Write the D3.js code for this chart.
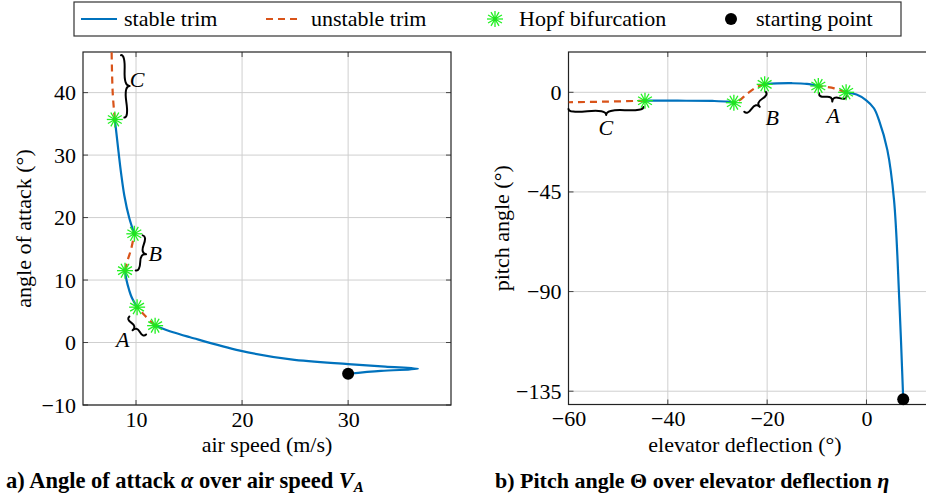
<!DOCTYPE html>
<html>
<head>
<meta charset="utf-8">
<script src="https://cdn.jsdelivr.net/npm/d3@7/dist/d3.min.js"></script>
<style>
  body { margin: 0; background: #fff; }
  svg { display: block; }
  svg text { font-family: "Liberation Serif", "Times New Roman", serif; }
  .grid line { stroke: #cfcfcf; stroke-width: 1; }
  .frame { fill: none; stroke: #222; stroke-width: 1.2; }
  .tick-mark { stroke: #444; stroke-width: 1; }
  .stable { fill: none; stroke: #0072bd; stroke-width: 2.2; }
  .unstable { fill: none; stroke: #d95319; stroke-width: 2.2; stroke-dasharray: 7 5; }
  .brace { fill: none; stroke: #000; stroke-width: 2; stroke-linecap: round; }
</style>
</head>
<body>
<svg id="chart" width="926" height="499"></svg>
<script>
// ---- data: a) angle of attack over air speed ----
const aStable = [
  [[30, -5.0], [33.1, -4.55], [36.6, -4.2], [33.5, -3.85], [30, -3.45], [24.6, -2.7], [19.8, -1.3], [15.1, 0.85], [13.5, 1.65], [11.8, 2.7]],
  [[10.1, 5.66], [9.6, 7.2], [9.35, 8.4], [9.1, 10.0], [8.96, 11.5]],
  [[9.84, 17.4], [9.35, 20.0], [8.9, 23.5], [8.6, 27.0], [8.35, 30.5], [8.15, 33.5], [8.0, 35.7]]
];
const aUnstable = [
  [[11.8, 2.7], [10.9, 4.2], [10.1, 5.66]],
  [[8.96, 11.5], [9.18, 13.0], [9.53, 14.9], [9.84, 17.4]],
  [[8.0, 35.7], [7.8, 40.0], [7.7, 46.5]]
];
const aHopf = [[11.8, 2.7], [10.1, 5.66], [8.96, 11.5], [9.84, 17.4], [8.0, 35.7]];
const aStart = [[30, -5.0]];
// braces: from, to, label position, label
const aBraces = [
  {from: [8.9, 36.0], to: [8.58, 46.0], label: [10.1, 40.9], text: "C"},
  {from: [9.97, 11.54], to: [10.63, 17.15], label: [11.8, 13.1], text: "B"},
  {from: [9.37, 4.17], to: [10.95, 1.28], label: [8.75, -0.75], text: "A"}
];
const aXTicks = [10, 20, 30];
const aYTicks = [-10, 0, 10, 20, 30, 40];

// ---- data: b) pitch angle over elevator deflection ----
const bStable = [
  [[7.4, -138.6], [6.6, -93.4], [5.55, -48.7], [4.2, -26.0], [2.5, -12.5], [1.5, -7.2], [-0.1, -3.5], [-2.0, -1.0], [-4.1, 0.0]],
  [[-9.7, 2.85], [-12.0, 3.8], [-15.0, 4.1], [-18.0, 4.0], [-20.5, 3.6]],
  [[-26.7, -4.7], [-28.0, -4.2], [-31.0, -3.9], [-38.0, -3.8], [-44.6, -3.8]]
];
const bUnstable = [
  [[-4.1, 0.0], [-6.5, 1.8], [-9.7, 2.85]],
  [[-20.5, 3.6], [-22.0, 2.5], [-24.0, -0.6], [-25.5, -3.5], [-26.7, -4.7]],
  [[-44.6, -3.8], [-52.0, -4.2], [-60.0, -4.5]]
];
const bHopf = [[-4.1, 0.0], [-9.7, 2.85], [-20.5, 3.6], [-26.7, -4.7], [-44.6, -3.8]];
const bStart = [[7.4, -138.6]];
const bBraces = [
  {from: [-60, -7.5], to: [-44.9, -6.6], label: [-52.5, -19.3], text: "C"},
  {from: [-24.6, -8.8], to: [-20.3, 0.27], label: [-19.0, -14.8], text: "B"},
  {from: [-9.54, -0.45], to: [-3.97, -1.67], label: [-6.7, -14.0], text: "A"}
];
const bXTicks = [-60, -40, -20, 0];
const bYTicks = [-135, -90, -45, 0];

const legendItems = ["stable trim", "unstable trim", "Hopf bifurcation", "starting point"];

const svg = d3.select('#chart');
const fmt = d3.format('');
const serif = '"Liberation Serif", "Times New Roman", serif';

// curly brace path between two pixel points, bulging by w
function bracePath(x1, y1, x2, y2, w, q) {
  let dx = x1 - x2, dy = y1 - y2;
  const len = Math.sqrt(dx * dx + dy * dy);
  dx /= len; dy /= len;
  const qx1 = x1 + q * w * dy, qy1 = y1 - q * w * dx;
  const qx2 = (x1 - 0.25 * len * dx) + (1 - q) * w * dy, qy2 = (y1 - 0.25 * len * dy) - (1 - q) * w * dx;
  const tx1 = (x1 - 0.5 * len * dx) + w * dy, ty1 = (y1 - 0.5 * len * dy) - w * dx;
  const qx3 = x2 + q * w * dy, qy3 = y2 - q * w * dx;
  const qx4 = (x1 - 0.75 * len * dx) + (1 - q) * w * dy, qy4 = (y1 - 0.75 * len * dy) - (1 - q) * w * dx;
  return 'M' + x1 + ',' + y1 + 'Q' + qx1 + ',' + qy1 + ' ' + qx2 + ',' + qy2 + 'T' + tx1 + ',' + ty1 +
    'M' + x2 + ',' + y2 + 'Q' + qx3 + ',' + qy3 + ' ' + qx4 + ',' + qy4 + 'T' + tx1 + ',' + ty1;
}

function drawStar(g, cx, cy, r) {
  const s = g.append('g').attr('transform', 'translate(' + cx + ',' + cy + ')');
  for (let k = 0; k < 6; k++) {
    const a = k * Math.PI / 6;
    s.append('line')
      .attr('x1', -r * Math.cos(a)).attr('y1', -r * Math.sin(a))
      .attr('x2', r * Math.cos(a)).attr('y2', r * Math.sin(a))
      .attr('stroke', '#22f022').attr('stroke-width', 1.3);
  }
  s.append('circle').attr('r', 2.2).attr('fill', '#22e022');
}

function drawPanel(cfg) {
  const x = d3.scaleLinear().domain(cfg.xDomain).range(cfg.xRange);
  const y = d3.scaleLinear().domain(cfg.yDomain).range(cfg.yRange);
  const g = svg.append('g');
  const x0 = cfg.xRange[0], x1 = cfg.xRange[1], y0 = cfg.yRange[1], y1 = cfg.yRange[0];

  // grid
  const grid = g.append('g').attr('class', 'grid');
  grid.selectAll('.gx').data(cfg.xTicks).enter().append('line')
    .attr('x1', d => x(d)).attr('x2', d => x(d)).attr('y1', y0).attr('y2', y1);
  grid.selectAll('.gy').data(cfg.yTicks).enter().append('line')
    .attr('x1', x0).attr('x2', x1).attr('y1', d => y(d)).attr('y2', d => y(d));

  // tick marks inside the frame
  cfg.xTicks.forEach(t => {
    g.append('line').attr('class', 'tick-mark').attr('x1', x(t)).attr('x2', x(t)).attr('y1', y1).attr('y2', y1 - 5);
    g.append('line').attr('class', 'tick-mark').attr('x1', x(t)).attr('x2', x(t)).attr('y1', y0).attr('y2', y0 + 5);
  });
  cfg.yTicks.forEach(t => {
    g.append('line').attr('class', 'tick-mark').attr('x1', x0).attr('x2', x0 + 5).attr('y1', y(t)).attr('y2', y(t));
    g.append('line').attr('class', 'tick-mark').attr('x1', x1).attr('x2', x1 - 5).attr('y1', y(t)).attr('y2', y(t));
  });

  // tick labels via axes (no domain path, no ticks)
  g.append('g')
    .attr('transform', 'translate(0,' + y1 + ')')
    .call(d3.axisBottom(x).tickValues(cfg.xTicks).tickFormat(fmt).tickSize(0).tickPadding(6))
    .call(a => a.select('.domain').remove())
    .selectAll('text').attr('fill', '#000').style('font-size', '22px').style('font-family', serif);
  g.append('g')
    .attr('transform', 'translate(' + x0 + ',0)')
    .call(d3.axisLeft(y).tickValues(cfg.yTicks).tickFormat(fmt).tickSize(0).tickPadding(7))
    .call(a => a.select('.domain').remove())
    .selectAll('text').attr('fill', '#000').style('font-size', '22px').style('font-family', serif);

  // frame
  g.append('rect').attr('class', 'frame')
    .attr('x', x0).attr('y', y0).attr('width', x1 - x0).attr('height', y1 - y0);

  // curves
  const line = d3.line().x(d => x(d[0])).y(d => y(d[1])).curve(d3.curveCatmullRom.alpha(0.5));
  const clipId = 'clip' + cfg.id;
  svg.append('clipPath').attr('id', clipId).append('rect')
    .attr('x', x0).attr('y', y0).attr('width', x1 - x0).attr('height', y1 - y0);
  const curves = g.append('g').attr('clip-path', 'url(#' + clipId + ')');
  cfg.unstable.forEach(seg => curves.append('path').attr('class', 'unstable').attr('d', line(seg)));
  cfg.stable.forEach(seg => curves.append('path').attr('class', 'stable').attr('d', line(seg)));

  // braces
  cfg.braces.forEach(b => {
    g.append('path').attr('class', 'brace')
      .attr('d', bracePath(x(b.from[0]), y(b.from[1]), x(b.to[0]), y(b.to[1]), 7, 0.6));
    g.append('text')
      .attr('x', x(b.label[0])).attr('y', y(b.label[1]))
      .attr('text-anchor', 'middle')
      .attr('font-size', 22).attr('font-style', 'italic')
      .text(b.text);
  });

  // markers
  cfg.hopf.forEach(p => drawStar(g, x(p[0]), y(p[1]), 8));
  g.selectAll('.start').data(cfg.start).enter().append('circle')
    .attr('cx', d => x(d[0])).attr('cy', d => y(d[1])).attr('r', 6).attr('fill', '#000');

  // axis labels
  g.append('text')
    .attr('x', cfg.xLabelX).attr('y', 452)
    .attr('text-anchor', 'middle').attr('font-size', 22)
    .text(cfg.xLabel);
  g.append('text')
    .attr('transform', 'translate(' + cfg.yLabelX + ',' + ((y0 + y1) / 2) + ') rotate(-90)')
    .attr('text-anchor', 'middle').attr('font-size', 22)
    .text(cfg.yLabel);
}

drawPanel({
  id: 'a', xDomain: [5, 39.7], xRange: [83, 451], yDomain: [-10, 46.5], yRange: [405, 52],
  xTicks: aXTicks, yTicks: aYTicks, stable: aStable, unstable: aUnstable,
  hopf: aHopf, start: aStart, braces: aBraces,
  xLabel: 'air speed (m/s)', xLabelX: 267, yLabel: 'angle of attack (°)', yLabelX: 31
});
drawPanel({
  id: 'b', xDomain: [-60, 14], xRange: [568.5, 936], yDomain: [-141, 18.2], yRange: [404.5, 52],
  xTicks: bXTicks, yTicks: bYTicks, stable: bStable, unstable: bUnstable,
  hopf: bHopf, start: bStart, braces: bBraces,
  xLabel: 'elevator deflection (°)', xLabelX: 745, yLabel: 'pitch angle (°)', yLabelX: 509
});

// captions
const capA = svg.append('text').attr('x', 6).attr('y', 488).attr('font-size', 22.5).attr('font-weight', 'bold');
capA.append('tspan').text('a) Angle of attack ');
capA.append('tspan').attr('font-style', 'italic').text('α');
capA.append('tspan').text(' over air speed ');
capA.append('tspan').attr('font-style', 'italic').text('V');
capA.append('tspan').attr('font-style', 'italic').attr('font-size', 15).attr('dy', 4).text('A');

const capB = svg.append('text').attr('x', 495).attr('y', 488).attr('font-size', 22).attr('font-weight', 'bold');
capB.append('tspan').text('b) Pitch angle Θ over elevator deflection ');
capB.append('tspan').attr('font-style', 'italic').text('η');

// legend
const legend = svg.append('g').attr('class', 'legend');
legend.append('rect')
  .attr('x', 74).attr('y', 2).attr('width', 827).attr('height', 34)
  .attr('fill', '#fff').attr('stroke', '#333').attr('stroke-width', 1.2);
const legendX = [124, 311, 519, 756];
legend.append('line').attr('class', 'stable').attr('x1', 81).attr('x2', 117).attr('y1', 19).attr('y2', 19);
legend.append('line').attr('class', 'unstable').attr('x1', 266).attr('x2', 302).attr('y1', 19).attr('y2', 19);
drawStar(legend, 495, 19, 8);
legend.append('circle').attr('cx', 731).attr('cy', 19).attr('r', 6).attr('fill', '#000');
legend.selectAll('.ltext').data(legendItems).enter().append('text')
  .attr('x', (d, i) => legendX[i]).attr('y', 26)
  .attr('font-size', 22)
  .text(d => d);
</script>
</body>
</html>
